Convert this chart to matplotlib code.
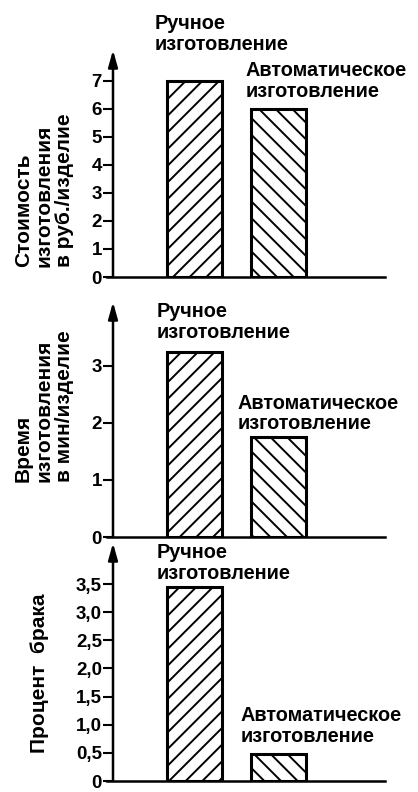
import matplotlib
matplotlib.use("Agg")
import matplotlib.pyplot as plt

# data
categories = ["Ручное\nизготовление", "Автоматическое\nизготовление"]
cost = [7.0, 6.0]
time_min = [3.25, 1.75]
defect = [3.45, 0.48]

cost_ticks = [0, 1, 2, 3, 4, 5, 6, 7]
cost_tick_labels = ["0", "1", "2", "3", "4", "5", "6", "7"]
time_ticks = [0, 1, 2, 3]
time_tick_labels = ["0", "1", "2", "3"]
defect_ticks = [0, 0.5, 1.0, 1.5, 2.0, 2.5, 3.0, 3.5]
defect_tick_labels = ["0", "0,5", "1,0", "1,5", "2,0", "2,5", "3,0", "3,5"]

ylabels = [
    "Стоимость\nизготовления\nв руб./изделие",
    "Время\nизготовления\nв мин/изделие",
    "Процент  брака",
]

W, H = 418, 792
FONT = "Liberation Sans"
plt.rcParams["font.family"] = [FONT, "DejaVu Sans"]
plt.rcParams["hatch.linewidth"] = 1.4
plt.rcParams["hatch.color"] = "black"

fig = plt.figure(figsize=(W / 100, H / 100), dpi=100)
fig.patch.set_facecolor("white")

# top px, baseline px, ymax, label x px, label bottom px, bar label offsets (px)
layout = [
    (50, 277, 8.1, 44, 267, [(-13, 27), (-5, 8)]),
    (302, 537, 4.12, 44, 482, [(-11, 10), (-13, 4)]),
    (543, 781, 4.23, 40, 753, [(-11, 4), (-10, 8)]),
]
values = [cost, time_min, defect]
tick_sets = [(cost_ticks, cost_tick_labels), (time_ticks, time_tick_labels),
             (defect_ticks, defect_tick_labels)]

BAR_W = 0.66
x = [0, 1]

for k, (top, base, ymax, lx, lb, offs) in enumerate(layout):
    vals = values[k]
    ticks, tlabels = tick_sets[k]

    ax = fig.add_axes([113 / W, 1 - base / H, 272 / W, (base - top) / H])
    ax.set_xlim(-0.98, 2.28)
    ax.set_ylim(0, ymax)

    bars = ax.bar(x, vals, width=BAR_W, color="white", edgecolor="black",
                  linewidth=2.2, zorder=3)
    bars[0].set_hatch("//")
    bars[1].set_hatch("\\\\")

    for i, (v, (dx, dy)) in enumerate(zip(vals, offs)):
        ax.annotate(categories[i], xy=(x[i] - BAR_W / 2, v), xytext=(dx, dy),
                    textcoords="offset pixels", ha="left", va="bottom",
                    fontsize=14.3, fontweight="bold", linespacing=1.1)

    for s in ["top", "right", "left"]:
        ax.spines[s].set_visible(False)
    ax.spines["bottom"].set_linewidth(1.8)
    ax.spines["bottom"].set_bounds(-1.05, 2.28)
    ax.annotate("", xy=(0, 1), xytext=(0, 0), xycoords="axes fraction",
                arrowprops=dict(arrowstyle="-|>,head_length=1.0,head_width=0.28",
                                lw=1.8, color="black", shrinkA=0, shrinkB=0))

    ax.set_xticks([])
    ax.set_yticks(ticks)
    ax.set_yticklabels(tlabels, fontsize=13.5, fontweight="bold")
    ax.tick_params(axis="y", length=7, width=1.5, pad=1)

    fig.text(lx / W, 1 - lb / H, ylabels[k],
             rotation=90, ha="center", va="bottom", multialignment="left",
             fontsize=15, fontweight="bold", linespacing=1.12)

fig.savefig("out.png", dpi=100, facecolor="white")
